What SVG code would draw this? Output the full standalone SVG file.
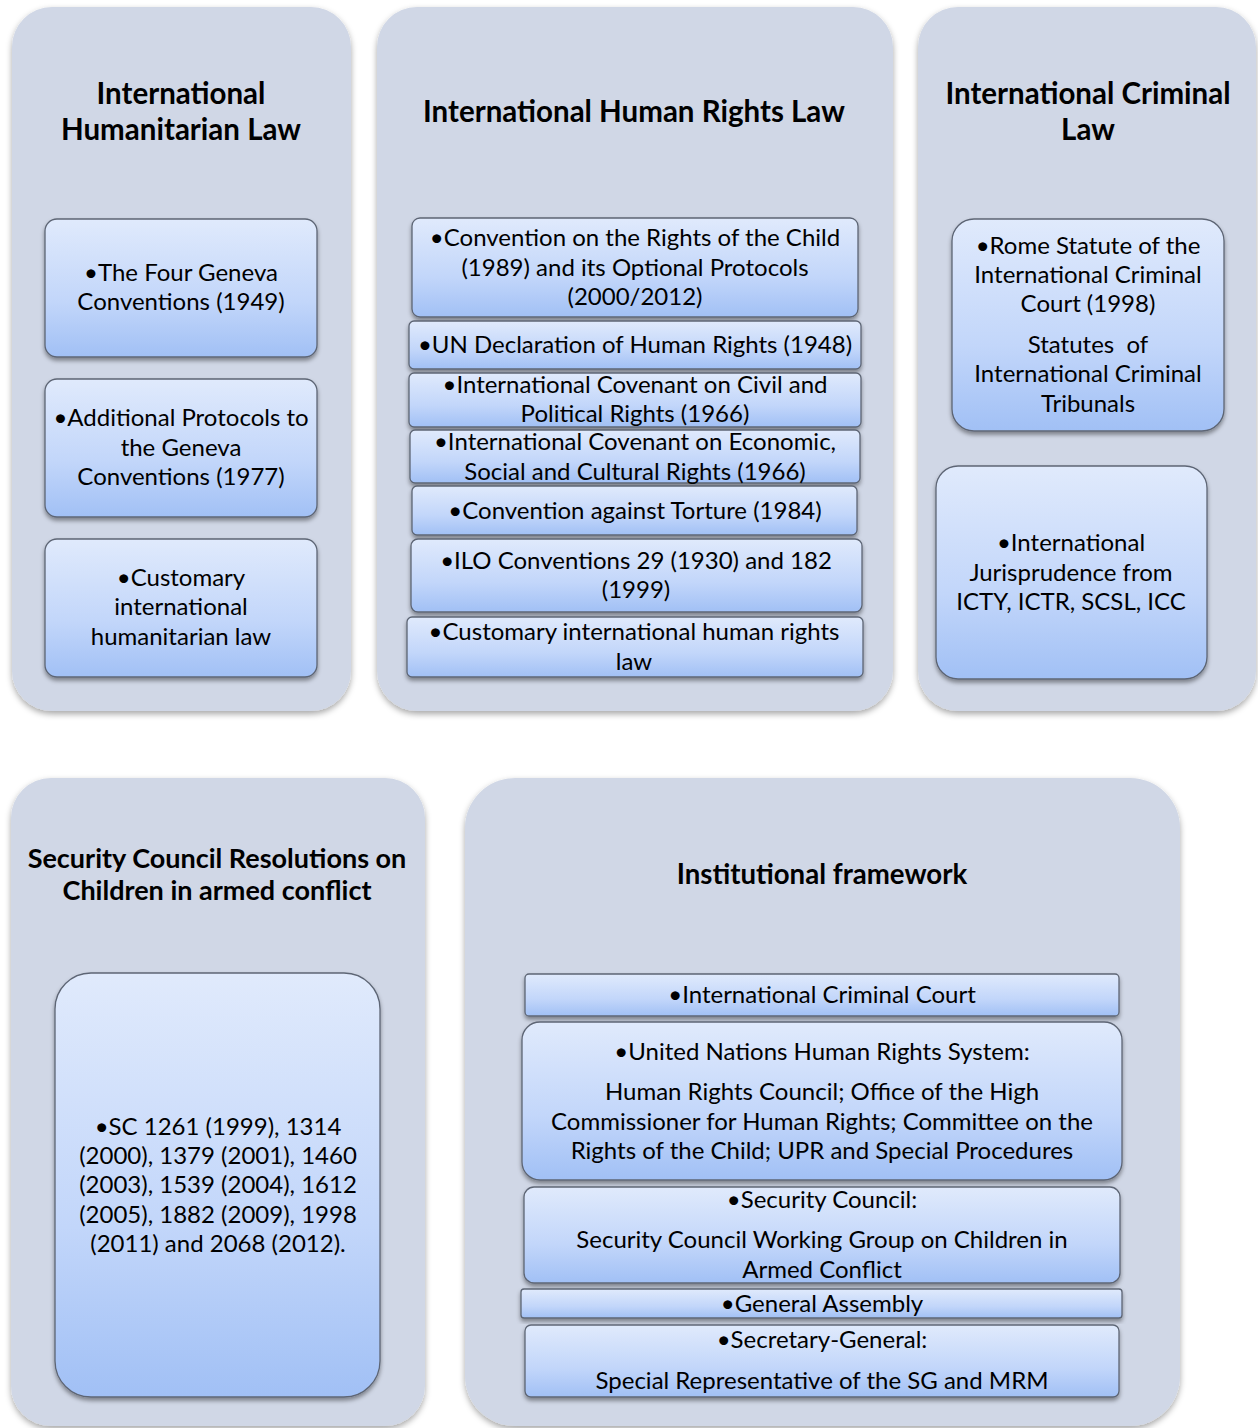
<svg xmlns="http://www.w3.org/2000/svg" width="1258" height="1428" viewBox="0 0 1258 1428">
<defs>
<linearGradient id="g" x1="0" y1="0" x2="0" y2="1">
<stop offset="0" stop-color="#e0eafc"/>
<stop offset="0.6" stop-color="#c2d6fa"/>
<stop offset="1" stop-color="#a1c0f5"/>
</linearGradient>
<filter id="ps" x="-10%" y="-10%" width="120%" height="120%">
<feDropShadow dx="0" dy="3" stdDeviation="3" flood-color="#000" flood-opacity="0.35"/>
</filter>
<filter id="bs" x="-10%" y="-10%" width="120%" height="130%">
<feDropShadow dx="0" dy="3" stdDeviation="2" flood-color="#000" flood-opacity="0.4"/>
</filter>
<style>
.panel{fill:#d0d7e6;filter:url(#ps)}
.box{fill:url(#g);stroke:#5d6574;stroke-width:1.3;filter:url(#bs)}
.t{font-family:Lato,"Liberation Sans",sans-serif;font-size:24px;fill:#000;text-anchor:middle}
.h{font-family:Lato,"Liberation Sans",sans-serif;font-size:29.5px;font-weight:bold;fill:#000;text-anchor:middle}
.h2{font-family:Lato,"Liberation Sans",sans-serif;font-size:27px;font-weight:bold;fill:#000;text-anchor:middle}
</style>
</defs>
<rect width="1258" height="1428" fill="#fff"/>

<g id="ihl">
<rect class="panel" x="12" y="7" width="339" height="704" rx="40"/>
<text class="h" x="181" y="104">International</text>
<text class="h" x="181" y="140">Humanitarian Law</text>
<g id="ihl-geneva">
<rect class="box" x="45" y="219" width="272" height="138" rx="12"/>
<text class="t" x="181" y="281">•The Four Geneva</text>
<text class="t" x="181" y="310">Conventions (1949)</text>
</g>
<g id="ihl-protocols">
<rect class="box" x="45" y="379" width="272" height="138" rx="12"/>
<text class="t" x="181" y="426">•Additional Protocols to</text>
<text class="t" x="181" y="456">the Geneva</text>
<text class="t" x="181" y="485">Conventions (1977)</text>
</g>
<g id="ihl-customary">
<rect class="box" x="45" y="539" width="272" height="138" rx="12"/>
<text class="t" x="181" y="586">•Customary</text>
<text class="t" x="181" y="615">international</text>
<text class="t" x="181" y="645">humanitarian law</text>
</g>
</g>

<g id="ihrl">
<rect class="panel" x="377" y="7" width="516" height="704" rx="40"/>
<text class="h" x="634" y="122">International Human Rights Law</text>
<g id="ihrl-crc">
<rect class="box" x="412" y="218" width="446" height="99" rx="8"/>
<text class="t" x="635" y="246">•Convention on the Rights of the Child</text>
<text class="t" x="635" y="276">(1989) and its Optional Protocols</text>
<text class="t" x="635" y="305">(2000/2012)</text>
</g>
<g id="ihrl-udhr">
<rect class="box" x="409" y="321" width="452" height="48" rx="5"/>
<text class="t" x="635" y="353">•UN Declaration of Human Rights (1948)</text>
</g>
<g id="ihrl-iccpr">
<rect class="box" x="409" y="373" width="452" height="54" rx="5"/>
<text class="t" x="635" y="393">•International Covenant on Civil and</text>
<text class="t" x="635" y="422">Political Rights (1966)</text>
</g>
<g id="ihrl-icescr">
<rect class="box" x="410" y="430" width="450" height="53" rx="5"/>
<text class="t" x="635" y="450">•International Covenant on Economic,</text>
<text class="t" x="635" y="480">Social and Cultural Rights (1966)</text>
</g>
<g id="ihrl-cat">
<rect class="box" x="412" y="486" width="445" height="49" rx="5"/>
<text class="t" x="635" y="519">•Convention against Torture (1984)</text>
</g>
<g id="ihrl-ilo">
<rect class="box" x="411" y="539" width="451" height="73" rx="7"/>
<text class="t" x="636" y="569">•ILO Conventions 29 (1930) and 182</text>
<text class="t" x="636" y="598">(1999)</text>
</g>
<g id="ihrl-customary">
<rect class="box" x="407" y="617" width="456" height="60" rx="5"/>
<text class="t" x="634" y="640">•Customary international human rights</text>
<text class="t" x="634" y="670">law</text>
</g>
</g>

<g id="icl">
<rect class="panel" x="918" y="7" width="338" height="704" rx="40"/>
<text class="h" x="1088" y="104">International Criminal</text>
<text class="h" x="1088" y="140">Law</text>
<g id="icl-rome">
<rect class="box" x="952" y="219" width="272" height="212" rx="22"/>
<text class="t" x="1088" y="254">•Rome Statute of the</text>
<text class="t" x="1088" y="283">International Criminal</text>
<text class="t" x="1088" y="312">Court (1998)</text>
<text class="t" x="1088" y="353" xml:space="preserve">Statutes  of</text>
<text class="t" x="1088" y="382">International Criminal</text>
<text class="t" x="1088" y="412">Tribunals</text>
</g>
<g id="icl-jurisprudence">
<rect class="box" x="936" y="466" width="271" height="213" rx="22"/>
<text class="t" x="1071" y="551">•International</text>
<text class="t" x="1071" y="581">Jurisprudence from</text>
<text class="t" x="1071" y="610">ICTY, ICTR, SCSL, ICC</text>
</g>
</g>

<g id="scr">
<rect class="panel" x="11" y="778" width="414" height="648" rx="40"/>
<text class="h2" x="217" y="868">Security Council Resolutions on</text>
<text class="h2" x="217" y="900">Children in armed conflict</text>
<g id="scr-list">
<rect class="box" x="55" y="973" width="325" height="424" rx="36"/>
<text class="t" x="218" y="1135">•SC 1261 (1999), 1314</text>
<text class="t" x="218" y="1164">(2000), 1379 (2001), 1460</text>
<text class="t" x="218" y="1193">(2003), 1539 (2004), 1612</text>
<text class="t" x="218" y="1223">(2005), 1882 (2009), 1998</text>
<text class="t" x="218" y="1252">(2011) and 2068 (2012).</text>
</g>
</g>

<g id="inst">
<rect class="panel" x="465" y="778" width="715" height="648" rx="50"/>
<text class="h" x="822" y="884" style="font-size:27.6px">Institutional framework</text>
<g id="inst-icc">
<rect class="box" x="525" y="974" width="594" height="42" rx="4"/>
<text class="t" x="822" y="1003">•International Criminal Court</text>
</g>
<g id="inst-unhrs">
<rect class="box" x="522" y="1022" width="600" height="158" rx="18"/>
<text class="t" x="822" y="1060">•United Nations Human Rights System:</text>
<text class="t" x="822" y="1100">Human Rights Council; Office of the High</text>
<text class="t" x="822" y="1130">Commissioner for Human Rights; Committee on the</text>
<text class="t" x="822" y="1159">Rights of the Child; UPR and Special Procedures</text>
</g>
<g id="inst-sc">
<rect class="box" x="524" y="1187" width="596" height="96" rx="10"/>
<text class="t" x="822" y="1208">•Security Council:</text>
<text class="t" x="822" y="1248">Security Council Working Group on Children in</text>
<text class="t" x="822" y="1278">Armed Conflict</text>
</g>
<g id="inst-ga">
<rect class="box" x="521" y="1289" width="601" height="29" rx="3"/>
<text class="t" x="822" y="1312">•General Assembly</text>
</g>
<g id="inst-sg">
<rect class="box" x="525" y="1325" width="594" height="72" rx="6"/>
<text class="t" x="822" y="1348">•Secretary-General:</text>
<text class="t" x="822" y="1389">Special Representative of the SG and MRM</text>
</g>
</g>
<g id="connectors"/>
</svg>
